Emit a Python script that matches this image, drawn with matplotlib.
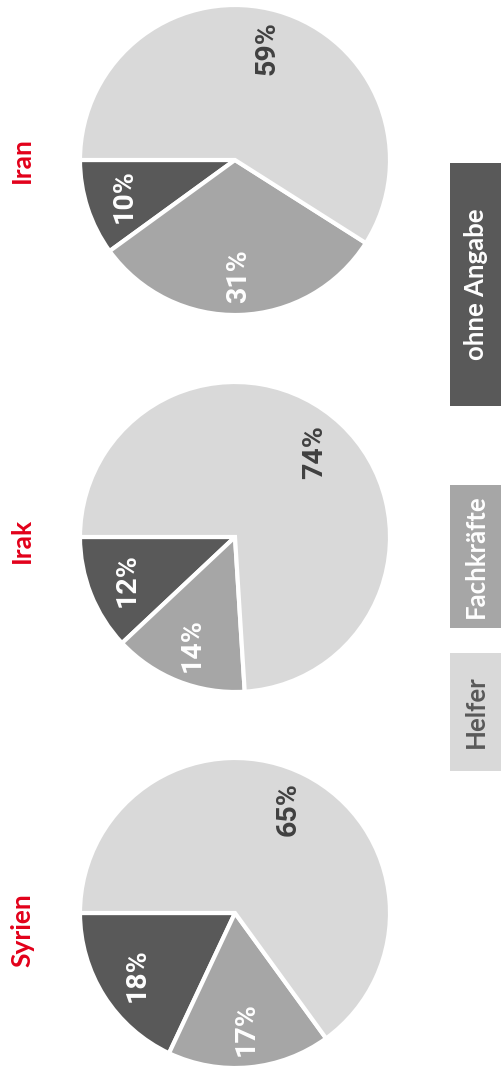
import matplotlib.pyplot as plt
from matplotlib.patches import Rectangle

# ========================
# Data
# ========================
countries = ["Syrien", "Irak", "Iran"]
categories = ["ohne Angabe", "Fachkräfte", "Helfer"]
syrien = [18, 17, 65]
irak = [12, 14, 74]
iran = [10, 31, 59]
shares = [syrien, irak, iran]

# ========================
# Styling
# ========================
W, H = 501, 1078
DPI = 100
COLORS = ["#595959", "#a6a6a6", "#d9d9d9"]
PCT_COLORS = ["white", "white", "#404040"]
LEGEND_TEXT = ["white", "white", "#595959"]
TITLE_RED = "#e2001a"

PIE_X = 235
PIE_Y = [913, 537, 160]      # pixel centres, from top
TITLE_Y = [930, 540, 160]
RADIUS = 155

fig = plt.figure(figsize=(W / DPI, H / DPI), dpi=DPI)


def px_to_fig(x, y):
    return x / W, 1 - y / H


for name, vals, cy, ty in zip(countries, shares, PIE_Y, TITLE_Y):
    left = (PIE_X - RADIUS) / W
    bottom = (H - cy - RADIUS) / H
    ax = fig.add_axes([left, bottom, 2 * RADIUS / W, 2 * RADIUS / H])
    wedges, texts, autotexts = ax.pie(
        vals, colors=COLORS, startangle=180, counterclock=True,
        autopct=lambda p: f"{round(p)}%", pctdistance=0.75,
        wedgeprops=dict(edgecolor="white", linewidth=3),
        textprops=dict(fontsize=20.5, fontweight="bold", family="Roboto",
                       rotation=90))
    for t, c in zip(autotexts, PCT_COLORS):
        t.set_color(c)
        t.set_rotation(90)
    ax.set_aspect("equal")
    ax.set_xlim(-1, 1)
    ax.set_ylim(-1, 1)
    ax.axis("off")

    fx, fy = px_to_fig(22, ty)
    fig.text(fx, fy, name, rotation=90, ha="center", va="center",
             color=TITLE_RED, fontsize=19, fontweight="bold", family="Lato")

# legend boxes (rotated legend on the right)
LEG_SPANS = [(163, 406), (485, 628), (653, 771)]
for cat, col, tcol, (y0, y1) in zip(categories, COLORS, LEGEND_TEXT, LEG_SPANS):
    x0f, y1f = px_to_fig(450, y1)
    fig.patches.append(Rectangle((x0f, y1f), (W - 450) / W, (y1 - y0) / H,
                                 transform=fig.transFigure, facecolor=col,
                                 edgecolor="none"))
    fx, fy = px_to_fig(476, (y0 + y1) / 2)
    fig.text(fx, fy, cat, rotation=90, ha="center", va="center",
             color=tcol, fontsize=18.5, fontweight="bold", family="Lato")

fig.savefig("out.png", dpi=DPI)
